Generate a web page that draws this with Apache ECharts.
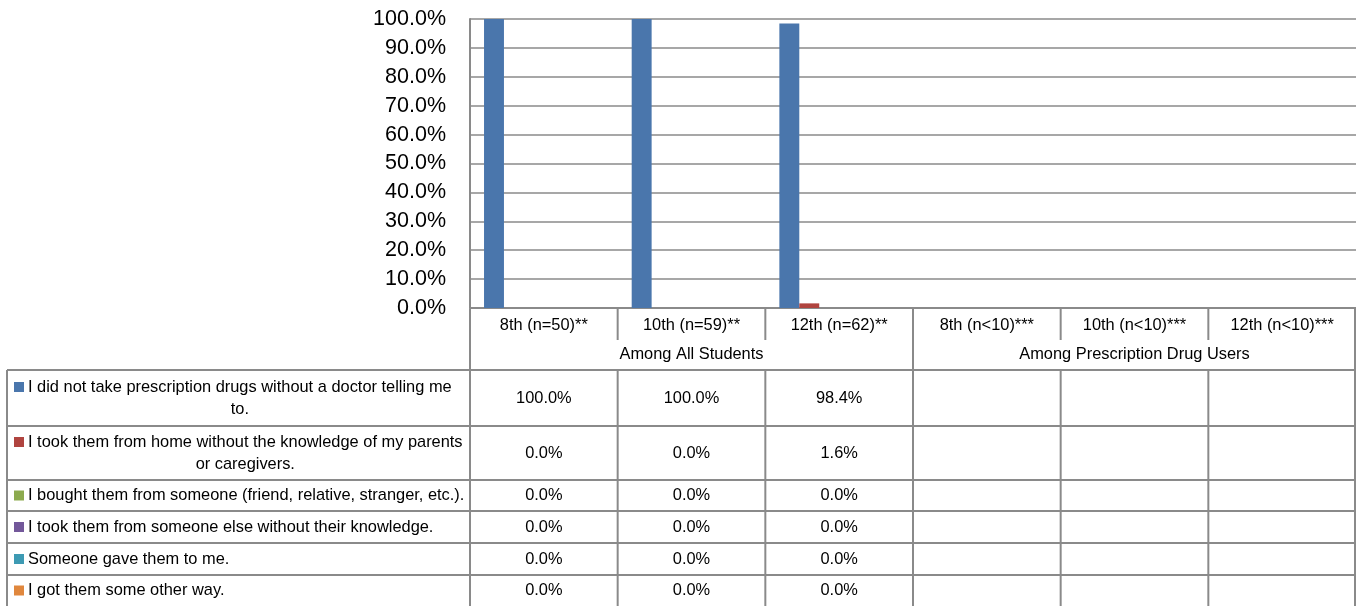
<!DOCTYPE html>
<html>
<head>
<meta charset="utf-8">
<script src="https://cdn.jsdelivr.net/npm/echarts@6/dist/echarts.min.js"></script>
<style>
html,body{margin:0;padding:0;background:#fff;}
#chart{width:1356px;height:606px;}
</style>
</head>
<body>
<div id="chart"></div>
<script>
// ---- data ----
const categories = ['8th (n=50)**', '10th (n=59)**', '12th (n=62)**', '8th (n<10)***', '10th (n<10)***', '12th (n<10)***'];
const groupNames = ['Among All Students', 'Among Prescription Drug Users'];
const groupSpans = [3, 3];
const seriesNames = [
  'I did not take prescription drugs without a doctor telling me\nto.',
  'I took them from home without the knowledge of my parents\nor caregivers.',
  'I bought them from someone (friend, relative, stranger, etc.).',
  'I took them from someone else without their knowledge.',
  'Someone gave them to me.',
  'I got them some other way.'
];
const noDoctor      = [1.000, 1.000, 0.984, null, null, null];
const fromHome      = [0.000, 0.000, 0.016, null, null, null];
const bought        = [0.000, 0.000, 0.000, null, null, null];
const fromSomeone   = [0.000, 0.000, 0.000, null, null, null];
const someoneGave   = [0.000, 0.000, 0.000, null, null, null];
const otherWay      = [0.000, 0.000, 0.000, null, null, null];
const seriesValues = [noDoctor, fromHome, bought, fromSomeone, someoneGave, otherWay];
const seriesColors = ['#4A76AC', '#B0443F', '#8CAA4E', '#73589A', '#3D9AB3', '#E0873D'];
const yMin = 0, yMax = 1, yStep = 0.1;

// ---- chart ----
const FONT = "'Liberation Sans', Arial, sans-serif";
const TFS = 16.4;
const LINE = '#8a8a8a';
const chart = echarts.init(document.getElementById('chart'), null, {renderer: 'canvas'});
const fmt = v => (v * 100).toFixed(1) + '%';

chart.setOption({
  animation: false,
  backgroundColor: '#ffffff',
  grid: {left: 470, right: 0, top: 19, bottom: 298, containLabel: false},
  xAxis: {
    type: 'category',
    data: categories,
    axisLine: {show: true, lineStyle: {color: LINE, width: 2}},
    axisTick: {show: false},
    axisLabel: {show: true, interval: 0, margin: 9, fontFamily: FONT, fontSize: TFS, color: '#000'},
    splitLine: {show: false}
  },
  yAxis: {
    type: 'value',
    min: yMin, max: yMax, interval: yStep,
    axisLine: {show: true, lineStyle: {color: LINE, width: 2}},
    axisTick: {show: false},
    axisLabel: {formatter: fmt, fontFamily: FONT, fontSize: 21.5, color: '#000', margin: 24},
    splitLine: {show: true, lineStyle: {color: LINE, width: 1.5}}
  },
  series: seriesNames.map((n, i) => ({
    name: n,
    type: 'bar',
    data: seriesValues[i],
    barGap: 0,
    barCategoryGap: '19%',
    itemStyle: {color: seriesColors[i]}
  }))
});

function buildTable() {
  const centers = categories.map(c => chart.convertToPixel({xAxisIndex: 0}, c));
  const cw = centers[1] - centers[0];
  const bounds = centers.map(c => c - cw / 2);
  bounds.push(centers[centers.length - 1] + cw / 2);
  const axisY = chart.convertToPixel({yAxisIndex: 0}, 0) + 1;
  const tableLeft = 7;
  const catRowBottom = 340;
  const headBottom = 370;
  const rowBounds = [370, 426, 480, 511, 543, 575, 606];
  const els = [];
  const line = (x1, y1, x2, y2) => els.push({type: 'line', silent: true, z: 50,
    shape: {x1, y1, x2, y2}, style: {stroke: LINE, lineWidth: 2}});
  const text = (s, x, y, align) => els.push({type: 'text', silent: true, z: 60, x, y,
    style: {text: s, font: TFS + 'px ' + FONT, fill: '#000', align, textAlign: align,
      verticalAlign: 'middle', textVerticalAlign: 'middle'}});

  const right = Math.min(bounds[bounds.length - 1], 1355);
  // horizontal lines
  rowBounds.forEach((y, k) => { if (k < rowBounds.length - 1) line(tableLeft, y, right, y); });
  // vertical lines
  line(tableLeft, headBottom, tableLeft, 606);
  line(bounds[0], axisY, bounds[0], 606);
  line(right, axisY, right, 606);
  let acc = 0;
  const groupEnds = groupSpans.map(s => (acc += s));
  for (let k = 1; k < bounds.length - 1; k++) {
    if (groupEnds.includes(k)) {
      line(bounds[k], axisY, bounds[k], 606);
    } else {
      line(bounds[k], axisY, bounds[k], catRowBottom);
      line(bounds[k], headBottom, bounds[k], 606);
    }
  }
  // group labels
  let start = 0;
  groupNames.forEach((g, gi) => {
    const end = start + groupSpans[gi];
    text(g, (bounds[start] + bounds[end]) / 2, (catRowBottom + headBottom) / 2 - 1, 'center');
    start = end;
  });
  // row labels & values
  const ctx = document.createElement('canvas').getContext('2d');
  ctx.font = TFS + 'px ' + FONT;
  seriesNames.forEach((n, i) => {
    const yTop = rowBounds[i], yBot = rowBounds[i + 1];
    const cy = (yTop + yBot) / 2;
    const lines = n.split('\n');
    const tx = 28;
    let firstY = cy;
    if (lines.length > 1) {
      firstY = cy - 11;
      const w1 = ctx.measureText(lines[0]).width;
      text(lines[0], tx, firstY, 'left');
      text(lines[1], tx + w1 / 2, cy + 11, 'center');
    } else {
      text(lines[0], tx, cy, 'left');
    }
    els.push({type: 'rect', silent: true, z: 60, shape: {x: 14, y: firstY - 5, width: 10, height: 10},
      style: {fill: seriesColors[i]}});
    seriesValues[i].forEach((v, j) => {
      if (v !== null && v !== undefined) text(fmt(v), centers[j], cy, 'center');
    });
  });
  chart.setOption({graphic: {elements: els}});
}
buildTable();
</script>
</body>
</html>
